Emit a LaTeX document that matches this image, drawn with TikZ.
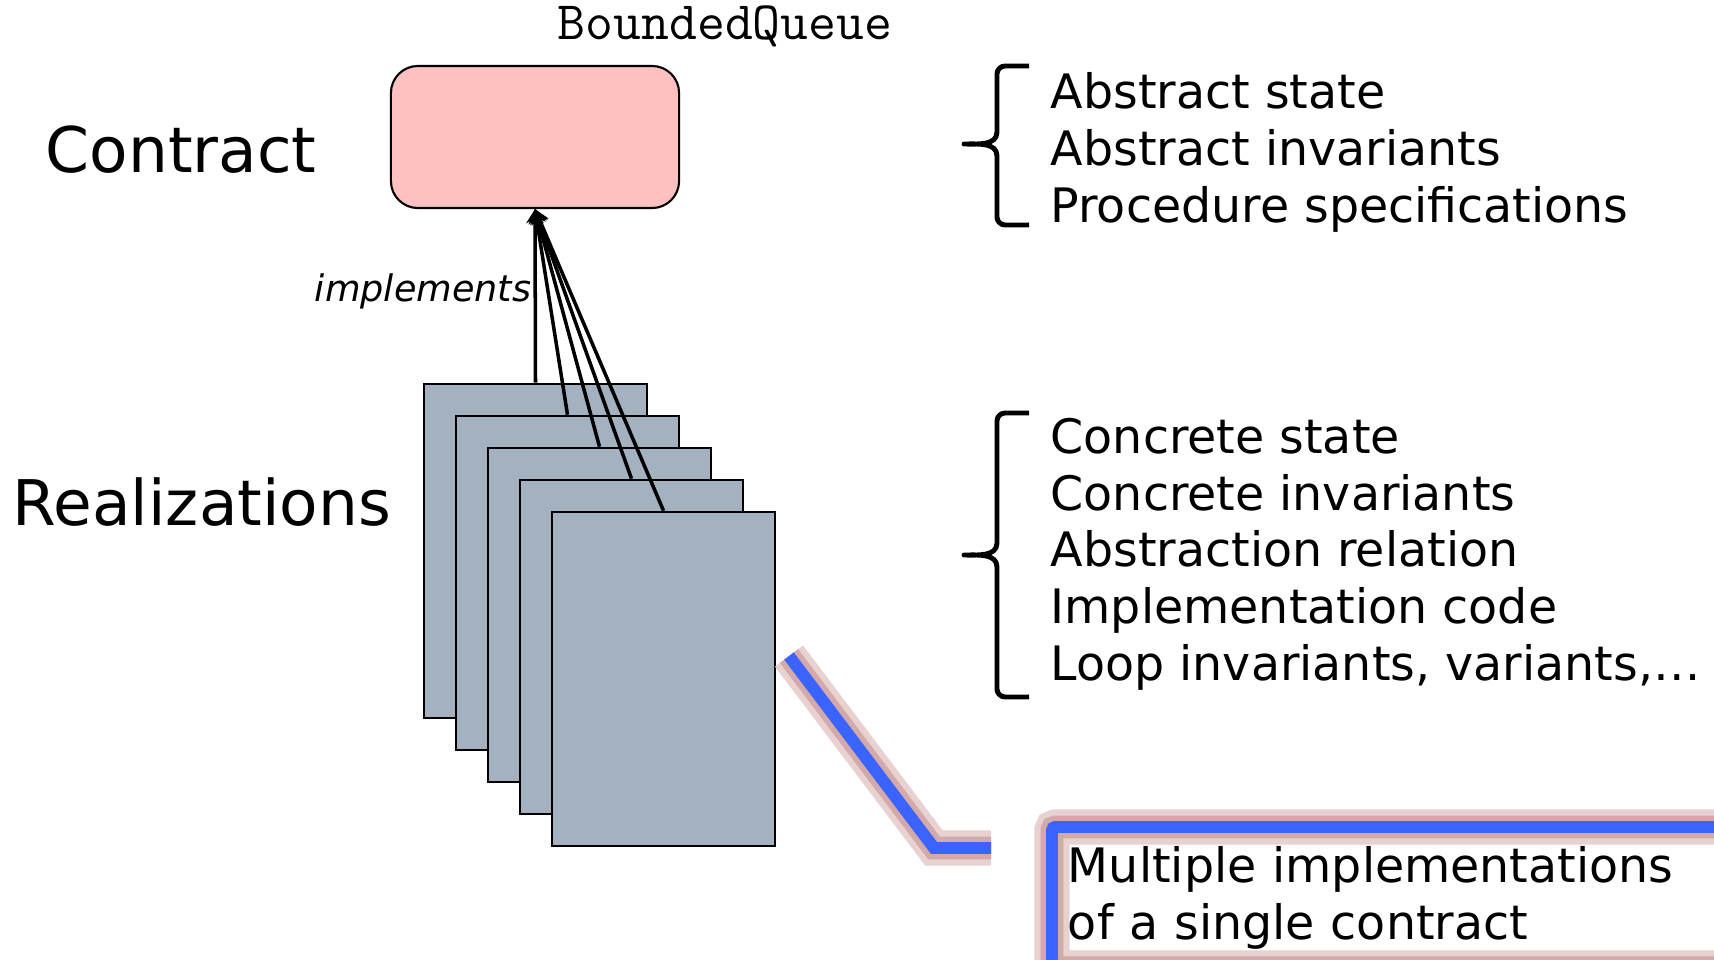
\documentclass[tikz,border=0pt]{standalone}
\usepackage{fontspec}
\setmainfont{DejaVu Sans}
\usetikzlibrary{arrows.meta}

\definecolor{contractpink}{RGB}{255,192,192}
\definecolor{cardgray}{RGB}{163,177,193}
\definecolor{noteblue}{RGB}{59,100,255}
\definecolor{glow}{RGB}{196,140,140}

\tikzset{
  card/.style={draw, fill=cardgray, line width=0.7pt, minimum width=2.23cm, minimum height=3.34cm, inner sep=0pt},
  listtext/.style={anchor=base west, align=left, inner sep=0pt, font=\fontsize{13.5}{16.1}\selectfont},
  bigtext/.style={anchor=base west, inner sep=0pt, font=\fontsize{17.9}{21}\selectfont},
  glowing/.style={draw=noteblue, line width=3.4pt,
    preaction={draw=glow!40, line width=10pt},
    preaction={draw=glow!75, line width=6.5pt}},
}

\begin{document}
\begin{tikzpicture}[x=0.01cm, y=-0.01cm, >={Stealth[length=4pt,width=5pt]}]
\useasboundingbox (0,0) rectangle (1714,960);
\clip (0,0) rectangle (1714,960);

\node[draw, fill=contractpink, line width=0.6pt, rounded corners=0.27cm, minimum width=2.88cm, minimum height=1.42cm] (contract) at (535,137) {};
\node[font=\ttfamily\fontsize{15.4}{17}\selectfont] (qname) at (725,26) {BoundedQueue};
\node[bigtext] (contractlbl) at (45,172) {Contract};
\node[bigtext] (reallbl) at (12,525) {Realizations};

\foreach \i in {1,...,5}
  \node[card] (c\i) at ({535.5+32*(\i-1)},{551+32*(\i-1)}) {};
\foreach \i in {1,...,5}
  \draw[->, line width=1pt] (c\i.north) -- (contract.south);
\node[anchor=base east, inner sep=0pt, font=\itshape\fontsize{10.4}{12}\selectfont] (impl) at (532,301) {implements};

% brackets
\foreach \t/\m/\b in {66/144/225, 413/555/697}
  \draw[line width=1.4pt, line join=round] (1029,\t) -- (1005,\t) to[out=180,in=90] (997,\t+8) -- (997,\m-12)
    to[out=-90,in=0] (964,\m) to[out=0,in=90] (997,\m+12) -- (997,\b-8) to[out=-90,in=180] (1005,\b) -- (1029,\b);

% lists, placed by the baseline of their last line
\node[listtext] (abstract) at (1050,222) {Abstract state\\Abstract invariants\\Procedure specifications};
\node[listtext] (concrete) at (1050,680) {Concrete state\\Concrete invariants\\Abstraction relation\\Implementation code\\Loop invariants, variants,\dots};

% callout
\coordinate (ptr) at (789,656);
\coordinate (ptrend) at (991,848);
\draw[glowing] (ptr) -- (934,848) -- (ptrend);
\node[glowing, rounded corners=1pt, anchor=north west, align=left, text width=6.9cm, inner xsep=0.16cm, inner ysep=0.19cm,
  font=\fontsize{13.5}{16.2}\selectfont] (note) at (1046,821) {Multiple implementations\\of a single contract};
\end{tikzpicture}
\end{document}
